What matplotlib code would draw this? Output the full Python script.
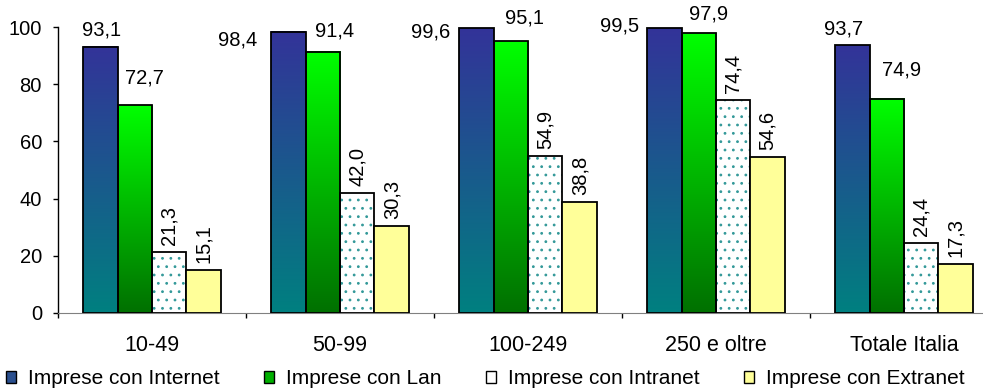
import matplotlib
matplotlib.use("Agg")
import matplotlib.pyplot as plt
import numpy as np
from matplotlib.colors import LinearSegmentedColormap
from matplotlib.patches import Rectangle, Patch

# dati
categorie = ["10-49", "50-99", "100-249", "250 e oltre", "Totale Italia"]
internet = [93.1, 98.4, 99.6, 99.5, 93.7]
lan = [72.7, 91.4, 95.1, 97.9, 74.9]
intranet = [21.3, 42.0, 54.9, 74.4, 24.4]
extranet = [15.1, 30.3, 38.8, 54.6, 17.3]
serie_nomi = ["Imprese con Internet", "Imprese con Lan",
              "Imprese con Intranet", "Imprese con Extranet"]

# spostamento etichette orizzontali (pixel: dx, dy rispetto al centro del top della barra)
off_internet = [(1, 17), (-51, -8), (-46, -4), (-45, 2), (-9, 16)]
off_lan = [(10, 27), (12, 21), (14, 23), (10, 19), (15, 29)]

plt.rcParams['font.family'] = ['Liberation Sans', 'DejaVu Sans']
plt.rcParams['font.size'] = 14.5
plt.rcParams['hatch.linewidth'] = 0.8

fig = plt.figure(figsize=(9.83, 3.9), dpi=100)
ax = fig.add_axes([58 / 983, 77 / 390, 940 / 983, 286 / 390])

cmap_blu = LinearSegmentedColormap.from_list("blu", ["#008080", "#333399"])
cmap_verde = LinearSegmentedColormap.from_list("verde", ["#007000", "#00FF00"])
grad = np.linspace(0, 1, 256).reshape(-1, 1)

start = 0.133
w = 0.1835
px2pt = 0.72


def fmt(v):
    return ("%.1f" % v).replace(".", ",")


for i in range(len(categorie)):
    x0 = i + start
    # internet e lan: gradiente
    for k, (vals, cm) in enumerate([(internet, cmap_blu), (lan, cmap_verde)]):
        xl = x0 + k * w
        ax.imshow(grad, extent=[xl, xl + w, 0, vals[i]], origin="lower",
                  aspect="auto", cmap=cm, zorder=2)
        ax.add_patch(Rectangle((xl, 0), w, vals[i], fill=False,
                               edgecolor="black", linewidth=1.3, zorder=3))
    # intranet: puntini
    xl = x0 + 2 * w
    ax.add_patch(Rectangle((xl, 0), w, intranet[i], facecolor="white",
                           edgecolor="#339999", hatch="..", linewidth=0, zorder=2))
    ax.add_patch(Rectangle((xl, 0), w, intranet[i], fill=False,
                           edgecolor="black", linewidth=1.3, zorder=3))
    # extranet
    xl = x0 + 3 * w
    ax.add_patch(Rectangle((xl, 0), w, extranet[i], facecolor="#FFFF99",
                           edgecolor="black", linewidth=1.3, zorder=3))

    # etichette
    for k, (vals, offs) in enumerate([(internet, off_internet), (lan, off_lan)]):
        xc = x0 + (k + 0.5) * w
        dx, dy = offs[i]
        ax.annotate(fmt(vals[i]), (xc, vals[i]), xytext=(dx * px2pt, dy * px2pt),
                    textcoords="offset points", ha="center", va="center",
                    annotation_clip=False)
    for k, vals in [(2, intranet), (3, extranet)]:
        xc = x0 + (k + 0.5) * w
        ax.annotate(fmt(vals[i]), (xc, vals[i]), xytext=(0, 7 * px2pt),
                    textcoords="offset points", ha="center", va="bottom",
                    rotation=90, annotation_clip=False)

ax.set_xlim(0, len(categorie))
ax.set_ylim(0, 100)
ax.spines['top'].set_visible(False)
ax.spines['right'].set_visible(False)
ax.spines['bottom'].set_color("#808080")
ax.spines['bottom'].set_clip_on(False)
ax.spines['left'].set_linewidth(1.0)

ax.set_yticks([0, 20, 40, 60, 80, 100])
ax.tick_params(axis="y", length=3.6, width=1.0, pad=8)
ax.set_xticks(range(len(categorie) + 1))
ax.set_xticklabels([])
ax.tick_params(axis="x", which="major", length=3.6, width=1.0, color="black")
ax.set_xticks(np.arange(len(categorie)) + 0.5, minor=True)
ax.set_xticklabels(categorie, minor=True, fontsize=15.5)
ax.tick_params(axis="x", which="minor", length=0, pad=16)

# legenda
maniglie = [Patch(facecolor="#2A4F8E", edgecolor="black"),
            Patch(facecolor="#00B000", edgecolor="black"),
            Patch(facecolor="white", edgecolor="black"),
            Patch(facecolor="#FFFF99", edgecolor="black")]
pos_x = [6, 264, 486, 744]
for h, nome, px in zip(maniglie, serie_nomi, pos_x):
    fig.legend([h], [nome], loc="center left", bbox_to_anchor=(px / 983, 11 / 390),
               frameon=False, handlelength=0.5, handleheight=0.5,
               handletextpad=0.55, borderpad=0, borderaxespad=0, fontsize=15)

fig.savefig("out.png", dpi=100)
